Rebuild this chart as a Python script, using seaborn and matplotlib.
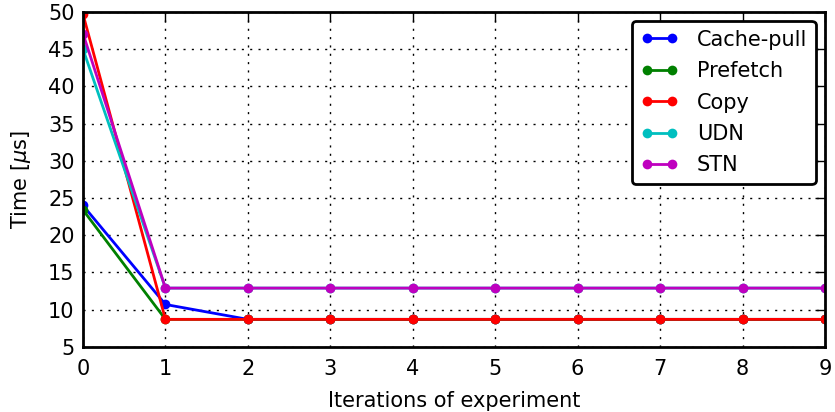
import numpy as np
import pandas as pd
import matplotlib
matplotlib.use("Agg")
import matplotlib.pyplot as plt
import seaborn as sns

iterations = list(range(10))
cache_pull = [24.0, 10.7, 8.7, 8.7, 8.7, 8.7, 8.7, 8.7, 8.7, 8.7]
prefetch = [23.4, 8.7, 8.7, 8.7, 8.7, 8.7, 8.7, 8.7, 8.7, 8.7]
copy = [49.7, 8.7, 8.7, 8.7, 8.7, 8.7, 8.7, 8.7, 8.7, 8.7]
udn = [45.0, 12.9, 12.9, 12.9, 12.9, 12.9, 12.9, 12.9, 12.9, 12.9]
stn = [47.1, 12.9, 12.9, 12.9, 12.9, 12.9, 12.9, 12.9, 12.9, 12.9]
names = ["Cache-pull", "Prefetch", "Copy", "UDN", "STN"]
colors = ["b", "g", "r", "c", "m"]

sns.set_style("white")
plt.rcParams['font.family'] = ['DejaVu Sans']
plt.rcParams['font.size'] = 15
for k in ['text.color', 'axes.labelcolor', 'xtick.color', 'ytick.color']:
    plt.rcParams[k] = 'black'

fig, ax = plt.subplots(figsize=(8.35, 4.12), dpi=100)
for name, vals, c in zip(names, [cache_pull, prefetch, copy, udn, stn], colors):
    sns.lineplot(x=iterations, y=vals, color=c, marker='o', markersize=7,
                 markeredgewidth=0, linewidth=2, label=name, ax=ax)

ax.set_xlim(0, 9)
ax.set_ylim(5, 50)
ax.set_xticks(range(10))
ax.set_yticks(range(5, 51, 5))
ax.grid(True, color='black', linestyle=(0, (1.5, 4.5)), linewidth=1)
ax.tick_params(direction='in', length=7, width=1, top=True, right=True, labelsize=15)
ax.tick_params(axis='y', pad=6)
ax.tick_params(axis='x', pad=9)
for s in ax.spines.values():
    s.set_linewidth(2)
    s.set_color('black')
ax.set_xlabel("Iterations of experiment", fontsize=15, labelpad=8)
ax.set_ylabel("Time [$\\mu$s]", fontsize=15, labelpad=11)

h, l = ax.get_legend_handles_labels()
leg = ax.legend(h, l, loc='upper right', numpoints=2, fontsize=15, fancybox=True,
                framealpha=1, edgecolor='black', handlelength=1.8, handletextpad=0.9,
                labelspacing=0.55, borderaxespad=0.45)
leg.get_frame().set_linewidth(2)

plt.subplots_adjust(left=0.0994, right=0.988, top=0.971, bottom=0.158)
plt.savefig("out.png")
